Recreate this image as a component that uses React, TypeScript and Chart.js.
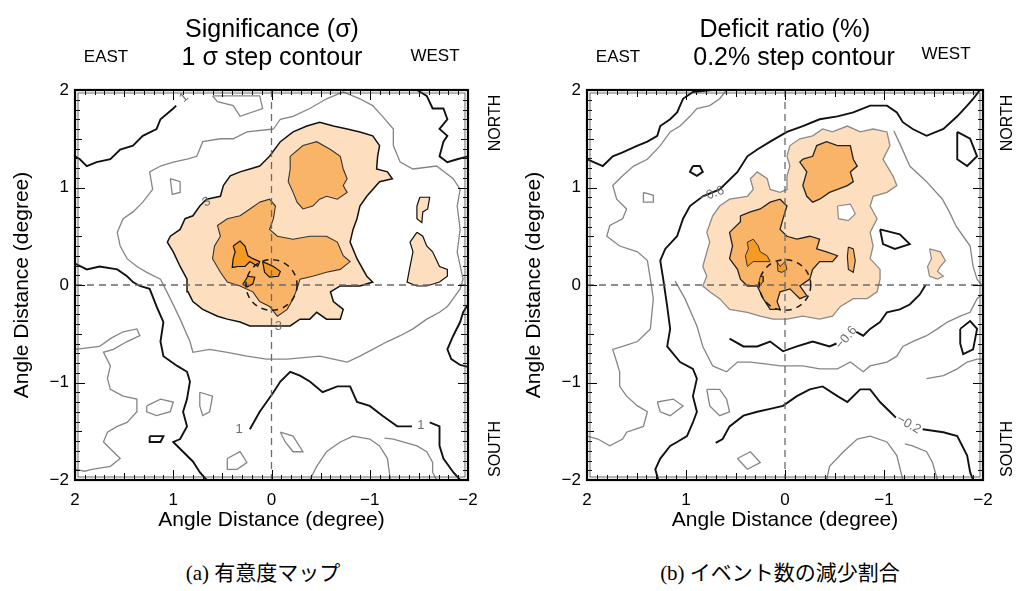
import React, { useEffect, useRef } from 'react';
import { Chart, registerables } from 'chart.js';

Chart.register(...registerables);

type P = [number, number];

// ---------- axes ----------
const AXIS_MIN = -2;
const AXIS_MAX = 2;
const TICK_VALUES = [-2, -1, 0, 1, 2];
const TICK_LABELS = ['−2', '−1', '0', '1', '2'];
const AXIS_TITLE = 'Angle Distance (degree)';
const MOON_RADIUS = 0.26;
const LEVEL_COLORS = ['#fddfc0', '#f9b468', '#f59a23'];

// ---------- (a) significance map ----------
const SIG_TITLES = ['Significance (σ)', '1 σ step contour'];
const sigLevel1Main: P[] = [[0.02,1.32],[-0.09,1.47],[-0.22,1.57],[-0.36,1.63],[-0.49,1.67],[-0.63,1.63],[-0.77,1.60],[-0.90,1.57],[-1.03,1.53],[-1.10,1.43],[-1.08,1.32],[-1.07,1.19],[-1.18,1.16],[-1.23,1.09],[-1.10,1.06],[-0.97,0.91],[-0.90,0.81],[-0.87,0.68],[-0.83,0.57],[-0.80,0.44],[-0.87,0.27],[-0.97,0.09],[-1.03,0.03],[-0.90,-0.01],[-0.70,-0.01],[-0.60,-0.07],[-0.63,-0.17],[-0.73,-0.25],[-0.70,-0.35],[-0.56,-0.35],[-0.46,-0.28],[-0.39,-0.35],[-0.29,-0.35],[-0.19,-0.42],[-0.09,-0.42],[0.09,-0.42],[0.22,-0.42],[0.32,-0.38],[0.45,-0.35],[0.55,-0.32],[0.70,-0.25],[0.80,-0.17],[0.85,-0.07],[0.86,0.06],[0.93,0.19],[1.00,0.34],[1.06,0.44],[1.03,0.50],[0.93,0.57],[0.88,0.68],[0.80,0.71],[0.73,0.81],[0.66,0.88],[0.52,0.91],[0.49,1.02],[0.42,1.12],[0.32,1.16],[0.22,1.19],[0.12,1.22],[0.05,1.29]];
const sigLevel1West: P[] = [[-1.48,0.54],[-1.54,0.50],[-1.58,0.40],[-1.64,0.34],[-1.71,0.19],[-1.79,0.16],[-1.79,0.09],[-1.71,0.03],[-1.58,-0.01],[-1.48,-0.01],[-1.38,0.03],[-1.41,0.19],[-1.44,0.34],[-1.41,0.44]];
const sigLevel1Small: P[] = [[-1.51,0.90],[-1.61,0.90],[-1.59,0.78],[-1.54,0.75],[-1.53,0.64],[-1.48,0.68],[-1.48,0.81]];
const sigLevel2North: P[] = [[-0.19,1.32],[-0.32,1.43],[-0.46,1.47],[-0.60,1.39],[-0.70,1.32],[-0.73,1.19],[-0.77,1.09],[-0.73,1.02],[-0.77,0.95],[-0.67,0.88],[-0.56,0.91],[-0.49,0.88],[-0.42,0.81],[-0.32,0.78],[-0.26,0.85],[-0.22,0.95],[-0.17,1.06],[-0.19,1.19]];
const sigLevel2Center: P[] = [[0.12,0.85],[0.02,0.88],[-0.04,0.81],[-0.02,0.68],[0.02,0.57],[-0.06,0.50],[-0.22,0.47],[-0.39,0.50],[-0.56,0.50],[-0.67,0.44],[-0.73,0.30],[-0.80,0.24],[-0.70,0.16],[-0.56,0.13],[-0.42,0.09],[-0.29,0.06],[-0.26,-0.04],[-0.22,-0.14],[-0.16,-0.25],[-0.06,-0.32],[0.02,-0.22],[0.12,-0.17],[0.19,-0.07],[0.32,-0.01],[0.45,0.03],[0.52,0.13],[0.60,0.27],[0.58,0.40],[0.52,0.50],[0.55,0.61],[0.45,0.68],[0.32,0.71],[0.22,0.78]];
const sigLevel3A: P[] = [[0.39,0.40],[0.32,0.45],[0.27,0.40],[0.24,0.30],[0.19,0.27],[0.12,0.24],[0.14,0.19],[0.22,0.24],[0.27,0.19],[0.34,0.19],[0.40,0.18],[0.39,0.27],[0.37,0.34]];
const sigLevel3B: P[] = [[0.09,0.24],[-0.02,0.19],[-0.09,0.14],[-0.07,0.09],[0.02,0.08],[0.07,0.13]];
const sigLevel3C: P[] = [[0.24,0.09],[0.17,0.08],[0.19,0.01],[0.25,-0.02],[0.29,0.01]];
const sigBlackA: P[] = [[0.97,1.84],[1.00,1.81],[1.13,1.70],[1.17,1.60],[1.31,1.53],[1.41,1.43],[1.54,1.39],[1.64,1.29],[1.78,1.26],[1.88,1.22],[1.95,1.29],[2.0,1.32]];
const sigBlackC: P[] = [[2.0,0.22],[1.88,0.16],[1.75,0.19],[1.57,0.16],[1.47,0.09],[1.41,0.03],[1.34,-0.01],[1.24,-0.04],[1.17,-0.22],[1.10,-0.38],[1.13,-0.58],[1.10,-0.73],[0.96,-0.83],[0.86,-0.89],[0.83,-0.99],[0.86,-1.17],[0.90,-1.30],[0.86,-1.45],[0.93,-1.58],[1.00,-1.61],[0.90,-1.71],[0.80,-1.81],[0.73,-1.92],[0.66,-2.0]];
const sigBlackD1: P[] = [[0.22,-1.48],[0.12,-1.30],[0.05,-1.20],[-0.02,-1.10],[-0.09,-0.99],[-0.19,-0.89],[-0.29,-0.93],[-0.39,-0.99],[-0.52,-1.10],[-0.67,-1.04],[-0.80,-1.04],[-0.87,-1.20],[-1.00,-1.24],[-1.13,-1.34],[-1.28,-1.45],[-1.43,-1.45]];
const sigBlackD2: P[] = [[-1.61,-1.41],[-1.71,-1.45],[-1.71,-1.65],[-1.75,-1.78],[-1.85,-1.92],[-1.92,-2.0]];
const sigBlackE: P[] = [[-1.48,2.0],[-1.58,1.94],[-1.64,1.81],[-1.75,1.81],[-1.79,1.70],[-1.71,1.60],[-1.79,1.53],[-1.75,1.47],[-1.71,1.32],[-1.79,1.26],[-1.89,1.29],[-2.0,1.32]];
const sigBlackF: P[] = [[-2.0,-0.20],[-1.95,-0.28],[-1.92,-0.38],[-1.85,-0.52],[-1.79,-0.66],[-1.83,-0.76],[-1.92,-0.82],[-2.0,-0.84]];
const sigBlackLoop: P[] = [[1.24,-1.55],[1.10,-1.55],[1.13,-1.61],[1.24,-1.61],[1.24,-1.55]];
const sigGrayB: P[] = [[-0.02,1.60],[0.25,1.57],[0.39,1.50],[0.52,1.50],[0.70,1.47],[0.76,1.32],[0.86,1.29],[1.00,1.26],[1.13,1.22],[1.24,1.16],[1.21,0.98],[1.31,0.85],[1.41,0.75],[1.51,0.68],[1.57,0.54],[1.54,0.40],[1.47,0.27],[1.37,0.19],[1.27,0.13],[1.13,0.06],[1.03,-0.14],[0.93,-0.35],[0.83,-0.58],[0.80,-0.69],[0.63,-0.66],[0.45,-0.69],[0.25,-0.73],[0.05,-0.76],[-0.16,-0.76],[-0.49,-0.73],[-0.63,-0.76],[-0.77,-0.79],[-0.90,-0.73],[-1.03,-0.66],[-1.18,-0.58],[-1.31,-0.52],[-1.44,-0.45],[-1.58,-0.35],[-1.71,-0.28],[-1.79,-0.22],[-1.85,-0.14],[-1.92,-0.04],[-1.95,0.06],[-1.89,0.34],[-1.92,0.57],[-1.89,0.81],[-1.92,0.98],[-1.85,1.09],[-1.68,1.22],[-1.44,1.19],[-1.31,1.26],[-1.24,1.43],[-1.24,1.60],[-1.13,1.73],[-1.03,1.84],[-0.90,1.91],[-0.73,1.98],[-0.56,1.91],[-0.39,1.81],[-0.22,1.73],[-0.09,1.70],[-0.02,1.60]];
const sigGrayG2: P[] = [[2.0,-0.66],[1.75,-0.63],[1.64,-0.55],[1.51,-0.48],[1.37,-0.45],[1.34,-0.52],[1.47,-0.58],[1.61,-0.66],[1.71,-0.69],[1.64,-0.83],[1.67,-0.96],[1.64,-1.07],[1.51,-1.14],[1.37,-1.17],[1.37,-1.30],[1.47,-1.41],[1.57,-1.45],[1.67,-1.51],[1.71,-1.61],[1.61,-1.71],[1.54,-1.78],[1.64,-1.86],[1.83,-1.89],[1.90,-1.91],[2.0,-1.89]];
const sigGrayG3: P[] = [[-0.39,-2.0],[-0.46,-1.86],[-0.56,-1.71],[-0.70,-1.61],[-0.83,-1.55],[-1.00,-1.58],[-1.10,-1.65],[-1.18,-1.78],[-1.21,-2.0]];
const sigGrayG4: P[] = [[-1.15,-1.57],[-1.24,-1.58],[-1.48,-1.65],[-1.58,-1.71],[-1.64,-1.82],[-1.64,-1.92],[-1.68,-2.0]];
const sigGrayLoop1: P[] = [[1.27,-1.24],[1.13,-1.17],[1.00,-1.20],[1.03,-1.30],[1.17,-1.34],[1.27,-1.30],[1.27,-1.24]];
const sigGrayLoop2: P[] = [[0.73,-1.10],[0.60,-1.14],[0.63,-1.30],[0.70,-1.34],[0.73,-1.24],[0.73,-1.10]];
const sigGrayLoop3: P[] = [[0.45,-1.78],[0.32,-1.71],[0.25,-1.82],[0.35,-1.89],[0.45,-1.89],[0.45,-1.78]];
const sigGrayLoop4: P[] = [[-0.09,-1.51],[-0.22,-1.55],[-0.32,-1.71],[-0.22,-1.71],[-0.14,-1.61],[-0.09,-1.51]];
const sigGrayLoop5: P[] = [[0.60,1.94],[0.12,1.94],[0.09,1.81],[0.32,1.73],[0.39,1.84],[0.55,1.88],[0.60,1.94]];
const sigGrayLoop6: P[] = [[1.03,1.09],[0.93,1.06],[0.93,0.95],[1.01,0.93],[1.03,1.09]];
const sigLabelText = ['1', '3', '1', '3', '1'];
const sigLabelPos: P[] = [[0.89,1.92],[0.66,0.85],[0.33,-1.48],[-0.07,-0.42],[-1.52,-1.44]];
const sigLabelRot = [-40, -30, 0, 0, 0];

// ---------- (b) deficit ratio ----------
const DEF_TITLES = ['Deficit ratio (%)', '0.2% step contour'];
const defLevel1Main: P[] = [[-0.02,1.32],[-0.05,1.43],[-0.15,1.50],[-0.28,1.53],[-0.38,1.60],[-0.48,1.57],[-0.63,1.63],[-0.76,1.57],[-0.89,1.60],[-1.03,1.57],[-1.06,1.43],[-0.99,1.29],[-1.09,1.12],[-1.13,1.02],[-1.03,0.95],[-0.89,0.91],[-0.86,0.81],[-0.93,0.68],[-0.86,0.54],[-0.89,0.40],[-0.86,0.27],[-0.96,0.16],[-0.96,0.06],[-0.93,-0.07],[-0.83,-0.14],[-0.69,-0.14],[-0.56,-0.22],[-0.48,-0.32],[-0.35,-0.35],[-0.18,-0.32],[-0.02,-0.35],[0.12,-0.35],[0.25,-0.32],[0.38,-0.28],[0.56,-0.25],[0.66,-0.14],[0.76,-0.07],[0.83,-0.01],[0.79,0.09],[0.83,0.19],[0.79,0.34],[0.76,0.44],[0.79,0.54],[0.73,0.71],[0.66,0.81],[0.56,0.88],[0.38,0.91],[0.32,0.98],[0.35,1.09],[0.28,1.16],[0.18,1.09],[0.15,0.98],[0.05,0.95],[-0.02,0.98],[-0.02,1.12],[-0.05,1.22]];
const defLevel1East: P[] = [[-1.46,0.37],[-1.57,0.34],[-1.62,0.25],[-1.57,0.19],[-1.54,0.14],[-1.60,0.09],[-1.54,0.06],[-1.46,0.09],[-1.44,0.19],[-1.48,0.27]];
const defHole: P[] = [[-0.53,0.81],[-0.66,0.83],[-0.71,0.73],[-0.64,0.66],[-0.54,0.68]];
const defLevel2North: P[] = [[-0.18,1.29],[-0.28,1.32],[-0.32,1.43],[-0.42,1.47],[-0.53,1.43],[-0.66,1.43],[-0.69,1.29],[-0.73,1.22],[-0.66,1.16],[-0.69,1.06],[-0.63,1.02],[-0.53,0.98],[-0.45,0.95],[-0.35,0.88],[-0.28,0.85],[-0.22,0.91],[-0.18,1.02],[-0.22,1.16],[-0.15,1.26]];
const defLevel2Center: P[] = [[0.45,0.71],[0.35,0.75],[0.25,0.78],[0.15,0.85],[0.05,0.88],[-0.02,0.81],[0.02,0.68],[0.05,0.57],[-0.02,0.50],[-0.12,0.47],[-0.25,0.50],[-0.35,0.47],[-0.32,0.37],[-0.42,0.34],[-0.53,0.30],[-0.48,0.24],[-0.35,0.24],[-0.28,0.16],[-0.25,0.06],[-0.15,-0.01],[-0.22,-0.11],[-0.15,-0.14],[-0.05,-0.04],[0.05,-0.07],[0.08,-0.17],[0.05,-0.25],[0.15,-0.25],[0.22,-0.14],[0.28,-0.01],[0.38,-0.01],[0.45,0.06],[0.48,0.16],[0.56,0.27],[0.53,0.40],[0.56,0.54],[0.45,0.65]];
const defLevel2Small: P[] = [[-0.64,0.39],[-0.69,0.37],[-0.71,0.25],[-0.69,0.13],[-0.64,0.16],[-0.63,0.29]];
const defLevel3A: P[] = [[0.38,0.44],[0.32,0.47],[0.27,0.40],[0.25,0.34],[0.18,0.30],[0.15,0.24],[0.22,0.24],[0.32,0.24],[0.38,0.19],[0.40,0.30],[0.37,0.37]];
const defLevel3B: P[] = [[0.08,0.24],[0.05,0.19],[0.00,0.24],[-0.02,0.16],[0.03,0.13],[0.07,0.14]];
const defLevel3C: P[] = [[0.25,0.09],[0.22,0.09],[0.22,0.03],[0.27,-0.01]];
const defBlackA: P[] = [[2.0,1.29],[1.84,1.22],[1.74,1.32],[1.64,1.36],[1.49,1.43],[1.39,1.47],[1.29,1.53],[1.26,1.63],[1.16,1.70],[1.09,1.77],[1.06,1.84],[1.03,1.91],[0.93,1.98],[0.74,2.0]];
const defBlackB: P[] = [[-1.97,2.0],[-1.90,1.91],[-1.84,1.84],[-1.74,1.73],[-1.60,1.60],[-1.43,1.53],[-1.29,1.60],[-1.19,1.67],[-1.13,1.77],[-1.03,1.84],[-0.86,1.84],[-0.69,1.77],[-0.53,1.73],[-0.35,1.70],[-0.18,1.63],[-0.02,1.57],[0.15,1.47],[0.28,1.39],[0.38,1.32],[0.48,1.16],[0.66,0.98],[0.83,0.91],[0.96,0.81],[1.03,0.68],[1.09,0.50],[1.21,0.37],[1.26,0.25],[1.23,0.06],[1.19,-0.22],[1.16,-0.45],[1.19,-0.63],[1.06,-0.79],[0.93,-0.86],[0.89,-0.96],[0.93,-1.14],[0.89,-1.30],[0.93,-1.41],[0.99,-1.55],[1.09,-1.61],[1.16,-1.65],[1.26,-1.78],[1.31,-1.89],[1.28,-2.0]];
const defBlackD1: P[] = [[0.70,-1.62],[0.63,-1.58],[0.56,-1.45],[0.42,-1.34],[0.28,-1.30],[0.15,-1.27],[0.02,-1.24],[-0.12,-1.14],[-0.25,-1.07],[-0.38,-1.04],[-0.53,-1.14],[-0.63,-1.20],[-0.76,-1.07],[-0.86,-1.07],[-0.96,-1.20],[-1.06,-1.30],[-1.12,-1.36]];
const defBlackD2: P[] = [[-1.39,-1.48],[-1.60,-1.51],[-1.74,-1.55],[-1.84,-1.75],[-1.87,-1.92],[-1.90,-2.0]];
const defBlackE1: P[] = [[0.56,-0.55],[0.42,-0.63],[0.28,-0.63],[0.15,-0.58],[0.02,-0.68],[-0.12,-0.63],[-0.28,-0.58],[-0.45,-0.63],[-0.52,-0.60]];
const defBlackE2: P[] = [[-0.72,-0.48],[-0.79,-0.52],[-0.86,-0.45],[-0.96,-0.38],[-1.03,-0.28],[-1.16,-0.25],[-1.26,-0.20],[-1.36,-0.10],[-1.42,0.00]];
const defBlackLoop1: P[] = [[-0.96,0.57],[-1.16,0.52],[-1.26,0.42],[-1.11,0.37],[-0.99,0.42],[-0.96,0.57]];
const defBlackLoop2: P[] = [[-1.74,1.57],[-1.87,1.50],[-1.94,1.32],[-1.84,1.22],[-1.74,1.29],[-1.74,1.57]];
const defBlackLoop3: P[] = [[-1.77,-0.45],[-1.87,-0.37],[-1.94,-0.45],[-1.90,-0.66],[-1.80,-0.71],[-1.77,-0.60],[-1.77,-0.45]];
const defBlackLoop4: P[] = [[0.93,1.22],[0.86,1.22],[0.83,1.16],[0.89,1.12],[0.96,1.16],[0.93,1.22]];
const defGrayG1: P[] = [[0.59,2.0],[0.66,1.91],[0.76,1.84],[0.89,1.81],[0.96,1.73],[1.06,1.63],[1.16,1.57],[1.26,1.43],[1.39,1.29],[1.53,1.22],[1.64,1.12],[1.74,1.02],[1.70,0.88],[1.60,0.78],[1.64,0.68],[1.77,0.61],[1.80,0.50],[1.67,0.40],[1.49,0.34],[1.39,0.25],[1.36,0.06],[1.33,-0.14],[1.36,-0.45],[1.49,-0.58],[1.64,-0.63],[1.74,-0.66],[1.70,-0.79],[1.67,-0.89],[1.67,-1.04],[1.60,-1.14],[1.49,-1.24],[1.39,-1.30],[1.43,-1.45],[1.60,-1.51],[1.64,-1.58],[1.77,-1.65],[1.89,-1.58],[2.0,-1.55]];
const defGrayG2: P[] = [[1.11,0.04],[1.01,-0.14],[0.89,-0.42],[0.83,-0.63],[0.73,-0.83],[0.59,-0.89],[0.48,-0.79],[0.35,-0.79],[0.20,-0.81],[0.05,-0.83],[-0.18,-0.83],[-0.35,-0.86],[-0.53,-0.86],[-0.66,-0.79],[-0.79,-0.89],[-0.86,-0.83],[-1.03,-0.79],[-1.13,-0.73],[-1.19,-0.63],[-1.29,-0.58],[-1.43,-0.52],[-1.54,-0.45],[-1.64,-0.38],[-1.77,-0.32],[-1.87,-0.28],[-1.94,-0.14],[-2.0,-0.09]];
const defGrayG4: P[] = [[-1.10,1.58],[-1.16,1.45],[-1.26,1.22],[-1.43,1.06],[-1.59,0.88],[-1.66,0.75],[-1.73,0.60],[-1.80,0.50],[-1.87,0.40],[-1.90,0.19],[-1.94,0.06],[-2.0,-0.02]];
const defGrayDome: P[] = [[-0.42,-2.0],[-0.45,-1.86],[-0.59,-1.71],[-0.73,-1.58],[-0.86,-1.55],[-1.03,-1.61],[-1.13,-1.75],[-1.19,-2.0]];
const defGrayG3: P[] = [[-1.21,-1.63],[-1.29,-1.65],[-1.43,-1.71],[-1.49,-1.82],[-1.54,-2.0]];
const defGrayEdge: P[] = [[-1.43,-0.96],[-1.60,-0.93],[-1.74,-0.86],[-1.84,-0.79],[-1.94,-0.76],[-2.0,-0.76]];
const defGrayLoop1: P[] = [[1.29,-1.20],[1.13,-1.17],[1.03,-1.24],[1.16,-1.34],[1.26,-1.30],[1.29,-1.20]];
const defGrayLoop2: P[] = [[0.79,-1.07],[0.66,-1.07],[0.59,-1.17],[0.56,-1.30],[0.66,-1.34],[0.76,-1.24],[0.79,-1.07]];
const defGrayLoop3: P[] = [[0.48,-1.78],[0.35,-1.71],[0.25,-1.82],[0.38,-1.89],[0.48,-1.78]];
const defGrayLoop4: P[] = [[1.43,0.95],[1.33,0.92],[1.33,0.85],[1.43,0.85],[1.43,0.95]];
const defLabelText = ['−0.6', '−0.6', '−0.2'];
const defLabelPos: P[] = [[0.74,0.93],[-0.62,-0.54],[-1.25,-1.43]];
const defLabelRot = [-20, -50, 30];

// ---------- rendering ----------
const FONT = '"Liberation Sans", Arial, Helvetica, sans-serif';
const CAPTION_FONT = '"Liberation Serif", "Noto Sans CJK JP", serif';
const CANVAS_W = 510;
const CANVAS_H = 545;

interface FillSpec { pts: P[]; level: number; edge: string; edgeW: number; }
interface PanelSpec {
  titles: string[];
  titleX: number[];
  eastX: number; westX: number; westBase: number; sideX: number;
  padRight: number;
  fills: FillSpec[];
  holes: P[][];
  holeEdge: string;
  black: P[][];
  gray: P[][];
  labelText: string[]; labelPos: P[]; labelRot: number[];
}

const PANEL_A: PanelSpec = {
  titles: SIG_TITLES, titleX: [272, 272], eastX: 106, westX: 435, westBase: 61, sideX: 496, padRight: 42,
  fills: [
    { pts: sigLevel1Main, level: 0, edge: '#111', edgeW: 1.5 },
    { pts: sigLevel1West, level: 0, edge: '#111', edgeW: 1.2 },
    { pts: sigLevel1Small, level: 0, edge: '#111', edgeW: 1.2 },
    { pts: sigLevel2North, level: 1, edge: '#333', edgeW: 1.1 },
    { pts: sigLevel2Center, level: 1, edge: '#333', edgeW: 1.1 },
    { pts: sigLevel3A, level: 2, edge: '#111', edgeW: 1.2 },
    { pts: sigLevel3B, level: 2, edge: '#111', edgeW: 1.2 },
    { pts: sigLevel3C, level: 2, edge: '#111', edgeW: 1.2 },
  ],
  holes: [], holeEdge: '#888',
  black: [sigBlackA, sigBlackC, sigBlackD1, sigBlackD2, sigBlackE, sigBlackF, sigBlackLoop],
  gray: [sigGrayB, sigGrayG2, sigGrayG3, sigGrayG4, sigGrayLoop1, sigGrayLoop2, sigGrayLoop3, sigGrayLoop4, sigGrayLoop5, sigGrayLoop6],
  labelText: sigLabelText, labelPos: sigLabelPos, labelRot: sigLabelRot,
};

const PANEL_B: PanelSpec = {
  titles: DEF_TITLES, titleX: [273, 282], eastX: 106, westX: 434, westBase: 59, sideX: 496, padRight: 39,
  fills: [
    { pts: defLevel1Main, level: 0, edge: '#8a8a8a', edgeW: 1.3 },
    { pts: defLevel1East, level: 0, edge: '#8a8a8a', edgeW: 1.2 },
    { pts: defLevel2North, level: 1, edge: '#222', edgeW: 1.3 },
    { pts: defLevel2Center, level: 1, edge: '#222', edgeW: 1.3 },
    { pts: defLevel2Small, level: 1, edge: '#222', edgeW: 1.1 },
    { pts: defLevel3A, level: 2, edge: '#333', edgeW: 1 },
    { pts: defLevel3B, level: 2, edge: '#333', edgeW: 1 },
    { pts: defLevel3C, level: 2, edge: '#333', edgeW: 1 },
  ],
  holes: [defHole], holeEdge: '#8a8a8a',
  black: [defBlackA, defBlackB, defBlackD1, defBlackD2, defBlackE1, defBlackE2, defBlackLoop1, defBlackLoop2, defBlackLoop3, defBlackLoop4],
  gray: [defGrayG1, defGrayG2, defGrayG4, defGrayDome, defGrayG3, defGrayEdge, defGrayLoop1, defGrayLoop2, defGrayLoop3, defGrayLoop4],
  labelText: defLabelText, labelPos: defLabelPos, labelRot: defLabelRot,
};

const toXY = (pts: P[]) => pts.map(([x, y]) => ({ x, y }));
const closed = (pts: P[]): P[] => [...pts, pts[0]];

function buildDatasets(spec: PanelSpec) {
  const base = { showLine: true, pointRadius: 0, pointHoverRadius: 0, pointHitRadius: 0, tension: 0 };
  const ds: any[] = [];
  spec.fills.forEach((f) => {
    ds.push({ ...base, data: toXY(closed(f.pts)), fill: 'shape', backgroundColor: LEVEL_COLORS[f.level],
      borderColor: f.edge, borderWidth: f.edgeW, order: 5 - f.level * 1.5 });
  });
  spec.holes.forEach((h) => {
    ds.push({ ...base, data: toXY(closed(h)), fill: 'shape', backgroundColor: '#ffffff',
      borderColor: spec.holeEdge, borderWidth: 1.2, order: 4 });
  });
  spec.gray.forEach((g) => {
    ds.push({ ...base, data: toXY(g), fill: false, borderColor: '#858585', borderWidth: 1.3, order: 1 });
  });
  spec.black.forEach((b) => {
    ds.push({ ...base, data: toXY(b), fill: false, borderColor: '#111111', borderWidth: 1.9, order: 0.5 });
  });
  return ds;
}

function tickLabel(v: any) {
  const i = TICK_VALUES.indexOf(Number(v));
  return i >= 0 ? TICK_LABELS[i] : '';
}

function makeDecor(spec: PanelSpec) {
  return {
    id: 'decor',
    afterDatasetsDraw(chart: any) {
      const { ctx, chartArea } = chart;
      const { left, right, top, bottom } = chartArea;
      const xs = chart.scales.x;
      const ys = chart.scales.y;
      const x0 = xs.getPixelForValue(0);
      const y0 = ys.getPixelForValue(0);
      ctx.save();
      ctx.fillStyle = '#6e6e6e';
      ctx.font = `13px ${FONT}`;
      ctx.textAlign = 'center';
      ctx.textBaseline = 'middle';
      spec.labelText.forEach((t, i) => {
        ctx.save();
        ctx.translate(xs.getPixelForValue(spec.labelPos[i][0]), ys.getPixelForValue(spec.labelPos[i][1]));
        ctx.rotate((spec.labelRot[i] * Math.PI) / 180);
        ctx.fillText(t, 0, 0);
        ctx.restore();
      });
      ctx.strokeStyle = '#6a6a6a';
      ctx.lineWidth = 1.3;
      ctx.setLineDash([7, 5]);
      ctx.beginPath();
      ctx.moveTo(x0, top); ctx.lineTo(x0, bottom);
      ctx.moveTo(left, y0); ctx.lineTo(right, y0);
      ctx.stroke();
      ctx.strokeStyle = '#1a1a1a';
      ctx.lineWidth = 1.5;
      ctx.setLineDash([6, 5]);
      const rx = Math.abs(xs.getPixelForValue(MOON_RADIUS) - x0);
      const ry = Math.abs(ys.getPixelForValue(MOON_RADIUS) - y0);
      ctx.beginPath();
      ctx.ellipse(x0, y0, rx, ry, 0, 0, Math.PI * 2);
      ctx.stroke();
      ctx.setLineDash([]);
      ctx.strokeStyle = '#000';
      ctx.lineWidth = 1;
      ctx.beginPath();
      for (let i = -20; i <= 20; i++) {
        const v = i / 10;
        const len = i % 10 === 0 ? 10 : i % 5 === 0 ? 7 : 5;
        const px = Math.round(xs.getPixelForValue(v)) + 0.5;
        const py = Math.round(ys.getPixelForValue(v)) + 0.5;
        ctx.moveTo(px, top); ctx.lineTo(px, top + len);
        ctx.moveTo(px, bottom); ctx.lineTo(px, bottom - len);
        ctx.moveTo(left, py); ctx.lineTo(left + len, py);
        ctx.moveTo(right, py); ctx.lineTo(right - len, py);
      }
      ctx.stroke();
      ctx.lineWidth = 2.2;
      ctx.strokeRect(left, top, right - left, bottom - top);
      ctx.lineWidth = 0.8;
      ctx.strokeStyle = '#444';
      ctx.strokeRect(left + 3, top + 3, right - left - 6, bottom - top - 6);
      ctx.restore();
    },
    afterDraw(chart: any) {
      const { ctx } = chart;
      ctx.save();
      ctx.fillStyle = '#000';
      ctx.textAlign = 'center';
      ctx.textBaseline = 'alphabetic';
      ctx.font = `25px ${FONT}`;
      ctx.fillText(spec.titles[0], spec.titleX[0], 37);
      ctx.fillText(spec.titles[1], spec.titleX[1], 65);
      ctx.font = `17px ${FONT}`;
      ctx.fillText('EAST', spec.eastX, 62);
      ctx.fillText('WEST', spec.westX, spec.westBase);
      ctx.font = `16px ${FONT}`;
      ctx.textBaseline = 'middle';
      [['NORTH', 123], ['SOUTH', 449]].forEach(([t, yy]) => {
        ctx.save();
        ctx.translate(spec.sideX, yy as number);
        ctx.rotate(-Math.PI / 2);
        ctx.fillText(t as string, 0, 0);
        ctx.restore();
      });
      ctx.restore();
    },
  };
}

function Panel({ spec, left }: { spec: PanelSpec; left: number }) {
  const ref = useRef<HTMLCanvasElement>(null);
  useEffect(() => {
    if (!ref.current) return;
    const chart = new Chart(ref.current, {
      type: 'scatter',
      data: { datasets: buildDatasets(spec) },
      options: {
        animation: false,
        responsive: false,
        maintainAspectRatio: false,
        events: [],
        layout: { padding: { left: 0, top: 90, right: spec.padRight, bottom: 0 } },
        plugins: { legend: { display: false }, tooltip: { enabled: false }, title: { display: false } },
        scales: {
          x: {
            type: 'linear', min: AXIS_MIN, max: AXIS_MAX, reverse: true,
            grid: { display: false, drawTicks: false }, border: { display: false },
            afterFit: (s: any) => { s.height = 65; },
            ticks: { stepSize: 1, padding: 10, color: '#000', autoSkip: false, maxRotation: 0,
              font: { size: 17, family: FONT }, callback: (v: any) => tickLabel(v) },
            title: { display: true, text: AXIS_TITLE, color: '#000', font: { size: 21, family: FONT },
              padding: { top: 0, bottom: 12 } },
          },
          y: {
            type: 'linear', min: AXIS_MIN, max: AXIS_MAX,
            grid: { display: false, drawTicks: false }, border: { display: false },
            afterFit: (s: any) => { s.width = 75; },
            ticks: { stepSize: 1, padding: 6, color: '#000', autoSkip: false,
              font: { size: 17, family: FONT }, callback: (v: any) => tickLabel(v) },
            title: { display: true, text: AXIS_TITLE, color: '#000', font: { size: 21, family: FONT },
              padding: { top: 10, bottom: 0 } },
          },
        },
      } as any,
      plugins: [makeDecor(spec)],
    });
    return () => chart.destroy();
  }, [spec]);
  return (
    <canvas ref={ref} width={CANVAS_W} height={CANVAS_H}
      style={{ position: 'absolute', left, top: 0, width: CANVAS_W, height: CANVAS_H }} />
  );
}

export default function App() {
  const cap: React.CSSProperties = {
    position: 'absolute', top: 560, textAlign: 'center', fontFamily: CAPTION_FONT,
    fontSize: 21, lineHeight: '26px', color: '#000', whiteSpace: 'nowrap',
  };
  return (
    <div style={{ position: 'absolute', left: 0, top: 0, width: 1021, height: 591, background: '#fff', overflow: 'hidden' }}>
      <Panel spec={PANEL_A} left={0} />
      <Panel spec={PANEL_B} left={512} />
      <div style={{ ...cap, left: 113, width: 300 }}>(a) 有意度マップ</div>
      <div style={{ ...cap, left: 630, width: 300 }}>(b) イベント数の減少割合</div>
    </div>
  );
}
